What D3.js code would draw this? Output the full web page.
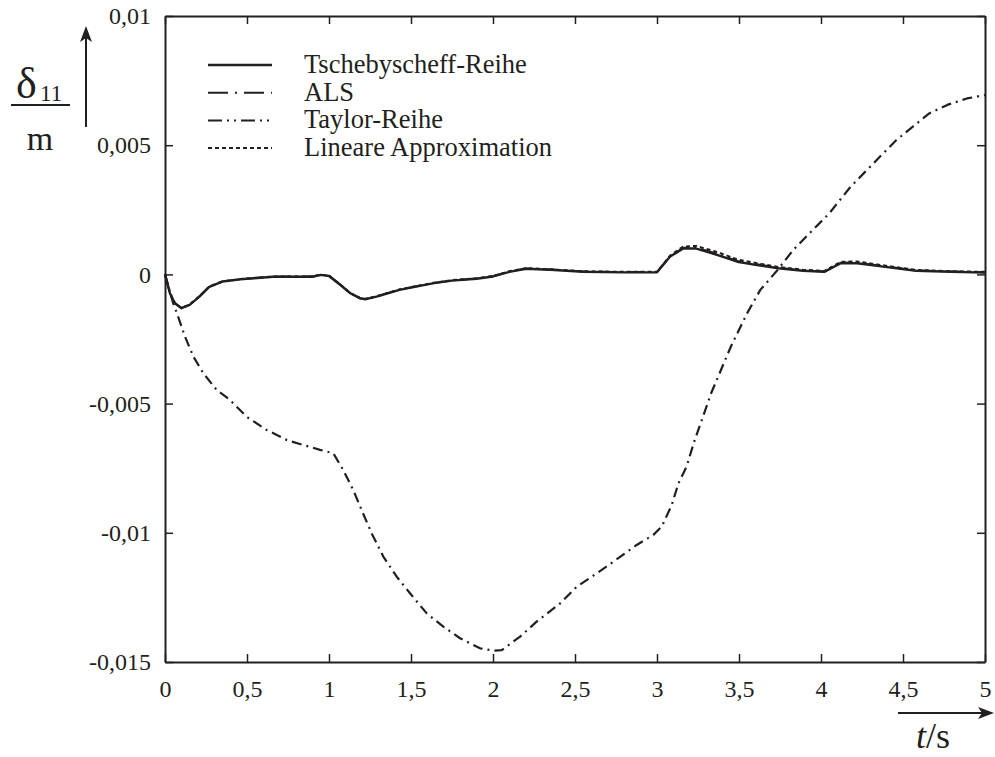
<!DOCTYPE html>
<html>
<head>
<meta charset="utf-8">
<script src="https://cdn.jsdelivr.net/npm/d3@7"></script>
<style>
  html, body { margin: 0; padding: 0; background: #fff; }
  svg { display: block; }
  text { font-family: "Liberation Serif", "Times New Roman", serif; fill: #231f20; }
</style>
</head>
<body>
<svg id="chart" width="995" height="757"></svg>
<script>
// Time axis (s) and deviation delta_11 (m) for the four approximation methods
const seriesNames = ["Tschebyscheff-Reihe", "ALS", "Taylor-Reihe", "Lineare Approximation"];

const tschebT = [0, 0.03, 0.06, 0.1, 0.15, 0.21, 0.27, 0.35, 0.46, 0.66, 0.9, 0.95, 1.0, 1.07, 1.13, 1.19, 1.22, 1.29, 1.43, 1.64, 1.75, 1.9, 2.0, 2.1, 2.2, 2.35, 2.55, 2.8, 3.0, 3.08, 3.16, 3.24, 3.37, 3.49, 3.61, 3.74, 3.89, 4.02, 4.12, 4.22, 4.38, 4.58, 4.79, 5.0];
const tschebV = [0, -0.00073, -0.00112, -0.00131, -0.00118, -0.00086, -0.00048, -0.00028, -0.00019, -0.00009, -0.00009, -0.00002, -0.00006, -0.00041, -0.00073, -0.00093, -0.00096, -0.00086, -0.0006, -0.00034, -0.00024, -0.00017, -0.00008, 0.0001, 0.00022, 0.00018, 0.0001, 0.00008, 0.00008, 0.00069, 0.001, 0.001, 0.00075, 0.00049, 0.00036, 0.00024, 0.00014, 0.0001, 0.00043, 0.00043, 0.0003, 0.00014, 0.0001, 0.00007];

const alsT = [0, 0.03, 0.06, 0.1, 0.15, 0.21, 0.27, 0.35, 0.46, 0.66, 0.9, 0.95, 1.0, 1.07, 1.13, 1.19, 1.22, 1.29, 1.43, 1.64, 1.75, 1.9, 2.0, 2.1, 2.2, 2.35, 2.55, 2.8, 3.0, 3.08, 3.16, 3.24, 3.37, 3.49, 3.61, 3.74, 3.89, 4.02, 4.12, 4.22, 4.38, 4.58, 4.79, 5.0];
const alsV = [0, -0.00071, -0.0011, -0.0013, -0.00117, -0.00085, -0.00047, -0.00027, -0.00018, -0.00009, -0.00008, -0.00002, -0.00005, -0.0004, -0.00072, -0.00092, -0.00095, -0.00085, -0.00059, -0.00033, -0.00023, -0.00016, -0.00007, 0.00011, 0.00023, 0.00019, 0.00011, 0.00009, 0.00009, 0.0007, 0.00103, 0.00104, 0.00079, 0.00052, 0.00039, 0.00026, 0.00015, 0.00011, 0.00045, 0.00046, 0.00032, 0.00015, 0.00011, 0.00008];

const taylorT = [0, 0.05, 0.072, 0.122, 0.173, 0.234, 0.315, 0.396, 0.498, 0.62, 0.742, 0.843, 0.945, 1.026, 1.087, 1.148, 1.199, 1.26, 1.331, 1.413, 1.494, 1.596, 1.697, 1.799, 1.921, 2.002, 2.053, 2.165, 2.266, 2.41, 2.51, 2.632, 2.734, 2.876, 2.978, 3.029, 3.09, 3.131, 3.18, 3.23, 3.28, 3.33, 3.39, 3.45, 3.49, 3.55, 3.63, 3.735, 3.83, 3.95, 4.05, 4.18, 4.26, 4.36, 4.46, 4.56, 4.66, 4.77, 4.89, 5.0];
const taylorV = [0, -0.00112, -0.00149, -0.00241, -0.00318, -0.00383, -0.00447, -0.00486, -0.00551, -0.00602, -0.00641, -0.0066, -0.00679, -0.00692, -0.00757, -0.00835, -0.00912, -0.01002, -0.01092, -0.0117, -0.01234, -0.01312, -0.01363, -0.01408, -0.01447, -0.01456, -0.01454, -0.01402, -0.01344, -0.01273, -0.01209, -0.01157, -0.01112, -0.01047, -0.01008, -0.00976, -0.00892, -0.00808, -0.00744, -0.00641, -0.00551, -0.0046, -0.0037, -0.0028, -0.00228, -0.0015, -0.0006, 0.00017, 0.00094, 0.00172, 0.00236, 0.00339, 0.00391, 0.00456, 0.0052, 0.00572, 0.00623, 0.00656, 0.00681, 0.00694];

const linT = [0, 0.03, 0.06, 0.1, 0.15, 0.21, 0.27, 0.35, 0.46, 0.66, 0.9, 0.95, 1.0, 1.07, 1.13, 1.19, 1.22, 1.29, 1.43, 1.64, 1.75, 1.9, 2.0, 2.1, 2.2, 2.35, 2.55, 2.8, 3.0, 3.08, 3.16, 3.24, 3.37, 3.49, 3.61, 3.74, 3.89, 4.02, 4.12, 4.22, 4.38, 4.58, 4.79, 5.0];
const linV = [0, -0.00072, -0.00111, -0.0013, -0.00117, -0.00085, -0.00047, -0.00027, -0.00018, -0.00008, -0.00008, -0.00001, -0.00005, -0.0004, -0.00072, -0.00092, -0.00095, -0.00085, -0.00058, -0.00032, -0.00022, -0.00015, -0.00006, 0.00012, 0.00024, 0.0002, 0.00012, 0.0001, 0.0001, 0.00073, 0.00108, 0.0011, 0.00086, 0.00058, 0.00043, 0.00029, 0.00018, 0.00013, 0.00049, 0.0005, 0.00035, 0.00017, 0.00012, 0.0001];

const xTicks = [0, 0.5, 1, 1.5, 2, 2.5, 3, 3.5, 4, 4.5, 5];
const yTicks = [0.01, 0.005, 0, -0.005, -0.01, -0.015];
const xTickLabels = ["0", "0,5", "1", "1,5", "2", "2,5", "3", "3,5", "4", "4,5", "5"];
const yTickLabels = ["0,01", "0,005", "0", "-0,005", "-0,01", "-0,015"];

const svg = d3.select("#chart");
const ink = "#231f20";
const serif = '"Liberation Serif", "Times New Roman", serif';
const plotLeft = 165, plotRight = 985, plotTop = 16, plotBottom = 662;

const x = d3.scaleLinear().domain([0, 5]).range([plotLeft, plotRight]);
const y = d3.scaleLinear().domain([-0.015, 0.01]).range([plotBottom, plotTop]);

function styleAxis(g) {
  g.attr("font-family", null).attr("font-size", null);
  g.selectAll("path.domain").attr("stroke", ink).attr("stroke-width", 2);
  g.selectAll(".tick line").attr("stroke", ink).attr("stroke-width", 1.5);
  g.selectAll(".tick text")
    .style("font-family", serif).style("font-size", "24px").attr("fill", ink);
}

// frame with inward ticks on all four sides
svg.append("g").attr("transform", `translate(0,${plotBottom})`)
  .call(d3.axisBottom(x).tickValues(xTicks).tickSizeInner(-8).tickSizeOuter(0).tickPadding(18)
    .tickFormat((d, i) => xTickLabels[i]))
  .call(styleAxis);
svg.append("g").attr("transform", `translate(0,${plotTop})`)
  .call(d3.axisTop(x).tickValues(xTicks).tickSizeInner(-8).tickSizeOuter(0).tickFormat(""))
  .call(styleAxis);
svg.append("g").attr("transform", `translate(${plotLeft},0)`)
  .call(d3.axisLeft(y).tickValues(yTicks).tickSizeInner(-8).tickSizeOuter(0).tickPadding(14)
    .tickFormat((d, i) => yTickLabels[i]))
  .call(styleAxis);
svg.append("g").attr("transform", `translate(${plotRight},0)`)
  .call(d3.axisRight(y).tickValues(yTicks).tickSizeInner(-8).tickSizeOuter(0).tickFormat(""))
  .call(styleAxis);

// curves
const line = d3.line().x(d => x(d[0])).y(d => y(d[1]));
const series = [
  { name: seriesNames[3], t: linT, v: linV, dash: "4,3", w: 2 },
  { name: seriesNames[1], t: alsT, v: alsV, dash: "16,5,2,5", w: 2 },
  { name: seriesNames[0], t: tschebT, v: tschebV, dash: null, w: 2.4 },
  { name: seriesNames[2], t: taylorT, v: taylorV, dash: "10,5,2,5", w: 2.2 }
];
const plot = svg.append("g");
series.forEach(s => {
  plot.append("path")
    .datum(d3.zip(s.t, s.v))
    .attr("d", line)
    .attr("fill", "none")
    .attr("stroke", ink)
    .attr("stroke-width", s.w)
    .attr("stroke-linejoin", "round")
    .attr("stroke-dasharray", s.dash);
});

// legend
const legendItems = [
  { name: seriesNames[0], dash: null, w: 2.4 },
  { name: seriesNames[1], dash: "20,7,2,7", w: 2 },
  { name: seriesNames[2], dash: "14,5,2,5,2,5", w: 2 },
  { name: seriesNames[3], dash: "4,3", w: 2 }
];
const legend = svg.append("g");
legendItems.forEach((it, i) => {
  const ly = 65 + i * 27.7;
  legend.append("line")
    .attr("x1", 208).attr("x2", 272).attr("y1", ly).attr("y2", ly)
    .attr("stroke", ink).attr("stroke-width", it.w)
    .attr("stroke-dasharray", it.dash);
  legend.append("text")
    .attr("x", 304).attr("y", ly + 8)
    .style("font-size", "26.5px")
    .text(it.name);
});

// y-axis label: delta_11 / m with upward arrow
const yl = svg.append("g");
yl.append("text").attr("x", 16).attr("y", 98).style("font-size", "44px").text("δ");
yl.append("text").attr("x", 40).attr("y", 101).style("font-size", "23px").text("11");
yl.append("line").attr("x1", 11).attr("x2", 70).attr("y1", 105).attr("y2", 105)
  .attr("stroke", ink).attr("stroke-width", 2);
yl.append("text").attr("x", 40).attr("y", 150).attr("text-anchor", "middle").style("font-size", "34px").text("m");
yl.append("line").attr("x1", 86).attr("x2", 86).attr("y1", 127).attr("y2", 36)
  .attr("stroke", ink).attr("stroke-width", 2);
yl.append("path").attr("d", "M86,26 L80,42 L86,38 L92,42 Z").attr("fill", ink);

// x-axis label: t/s with rightward arrow
const xl = svg.append("g");
xl.append("line").attr("x1", 898).attr("x2", 984).attr("y1", 713).attr("y2", 713)
  .attr("stroke", ink).attr("stroke-width", 2);
xl.append("path").attr("d", "M994,713 L978,707 L982,713 L978,719 Z").attr("fill", ink);
const xt = xl.append("text").attr("x", 916).attr("y", 748).style("font-size", "36px");
xt.append("tspan").attr("font-style", "italic").text("t");
xt.append("tspan").text("/s");
</script>
</body>
</html>
